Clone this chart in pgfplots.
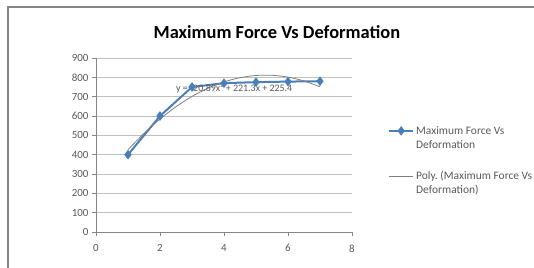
\documentclass[border=0pt]{standalone}
\usepackage{pgfplots}
\pgfplotsset{compat=1.18}
\usepackage{fontspec}
\setmainfont{Carlito}
\frenchspacing
\definecolor{serblue}{HTML}{4A7EBB}
\definecolor{txtgray}{HTML}{595959}
\definecolor{axgray}{HTML}{868686}
\definecolor{gridgray}{HTML}{BFBFBF}
\definecolor{trend}{HTML}{7F7F7F}
\begin{document}
\begin{tikzpicture}
\useasboundingbox (-96bp,-36bp) rectangle (438bp,232bp);
\draw[axgray, line width=1.2bp] (-88bp,-36bp) -- (-88bp,225bp) -- (438bp,225bp);
\begin{axis}[
  at={(0,0)}, anchor=south west,
  scale only axis, width=256bp, height=174bp,
  xmin=0, xmax=8, ymin=0, ymax=900,
  xtick={0,2,4,6,8}, ytick={0,100,...,900},
  axis x line*=bottom, axis y line*=left,
  axis line style={axgray, -},
  tick style={axgray, thin},
  tick align=outside,
  major tick length=4bp,
  ymajorgrids, grid style={gridgray, line width=0.6bp},
  ticklabel style={font=\fontsize{11}{12}\selectfont, text=txtgray},
  /pgf/number format/assume math mode=true,
  xticklabel style={yshift=-5bp},
  title={\bfseries Maximum Force Vs Deformation},
  title style={at={(0.707,1)}, anchor=center, yshift=20bp, font=\fontsize{18.5}{20}\selectfont},
  legend style={at={(1,1)}, anchor=north west, xshift=36bp, yshift=-66bp, draw=none, fill=none,
    font=\fontsize{11.5}{14}\selectfont, text=txtgray, align=left, row sep=18bp, inner sep=0pt},
  legend cell align=left,
  legend image code/.code={\draw[mark repeat=2,mark phase=2,#1, yshift=7bp] plot coordinates {(0bp,0bp)(12bp,0bp)(24bp,0bp)};},
]
\addplot[serblue, line width=2bp, mark=diamond*, mark size=3.2bp, mark options={solid, fill=serblue}]
  coordinates {(1,400)(2,600)(3,750)(4,770)(5,775)(6,778)(7,780)};
\addlegendentry{Maximum Force Vs\\Deformation}
\addplot[trend, line width=0.8bp, smooth]
  coordinates {(1,425.81)(1.5,510.35)(2,584.44)(2.5,648.09)(3,701.29)(3.5,744.05)(4,776.36)(4.5,798.23)(5,809.65)(5.5,810.63)(6,801.16)(6.5,781.25)(7,750.89)};
\addlegendentry{Poly. (Maximum Force Vs\\Deformation)}
\node[anchor=west, font=\fontsize{10}{12}\selectfont, text=txtgray, inner sep=0pt] at (axis cs:2.5,745) {y = -20.89x² + 221.3x + 225.4};
\end{axis}
\end{tikzpicture}
\end{document}
